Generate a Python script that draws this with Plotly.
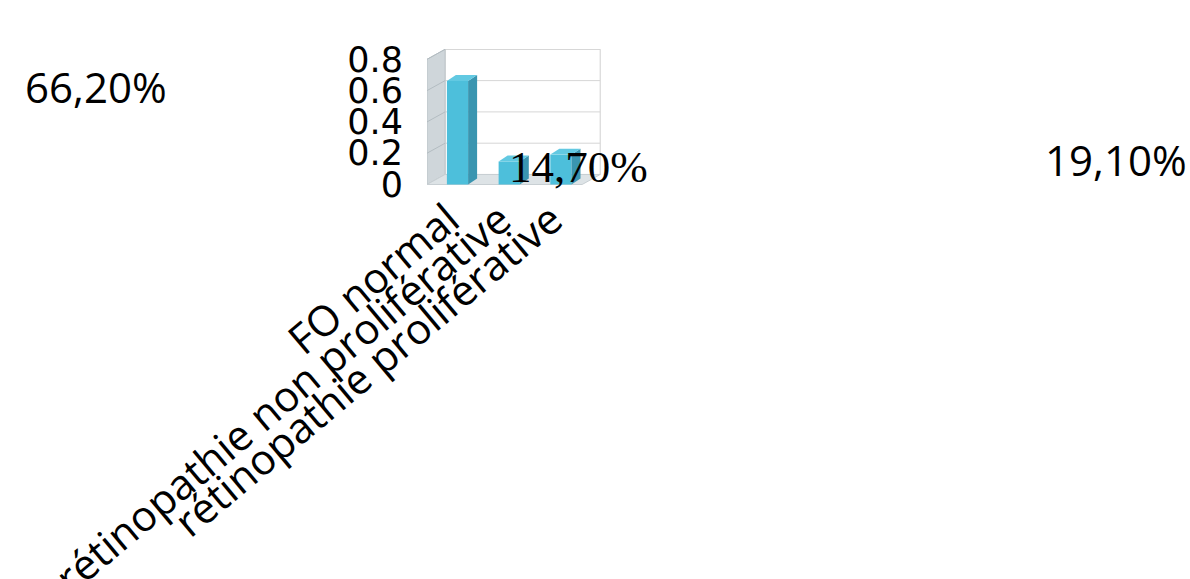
import plotly.graph_objects as go

# ---------------- data ----------------
categories = ["FO normal", "rétinopathie non proliférative", "rétinopathie proliférative"]
values = [0.662, 0.147, 0.191]
y_ticks = [0, 0.2, 0.4, 0.6, 0.8]
y_tick_text = ["0", "0.2", "0.4", "0.6", "0.8"]

# ---------------- geometry / style ----------------
W, H = 1190, 579
OFF = 0.09                     # bars sit mid-depth, so the front frame is shifted left
X_RANGE = [-0.5 - OFF, 2.814]
Y_RANGE = [-0.0096, 0.866]
DX, DY = 0.35, 0.064           # depth of the 3D box (data units)
BW = 0.41                      # bar width
BDX, BDY = 0.174, 0.038        # bar depth
FRONT, SIDE, TOP = "#4dbfdb", "#3a95b0", "#62c9e2"
WALL, FLOOR, GRID = "#cfd6da", "#dde3e6", "#d6d6d6"

x_pos = list(range(len(categories)))

fig = go.Figure()
fig.add_trace(go.Bar(x=x_pos, y=values, width=BW, marker=dict(color=FRONT, line=dict(width=0)),
                     hoverinfo="skip", showlegend=False))
for i, v in zip(x_pos, values):
    r = i + BW / 2
    l = i - BW / 2
    fig.add_trace(go.Scatter(x=[r, r + BDX, r + BDX, r, r], y=[0, BDY, v + BDY, v, 0],
                             mode="lines", fill="toself", fillcolor=SIDE, line=dict(width=0),
                             hoverinfo="skip", showlegend=False))
    fig.add_trace(go.Scatter(x=[l, r, r + BDX, l + BDX, l], y=[v, v, v + BDY, v + BDY, v],
                             mode="lines", fill="toself", fillcolor=TOP, line=dict(width=0),
                             hoverinfo="skip", showlegend=False))

xl, xr = X_RANGE[0], len(categories) - 0.5 - OFF
ytop = y_ticks[-1]
shapes = []
# back wall
shapes.append(dict(type="rect", xref="x", yref="y", x0=xl + DX, x1=xr + DX, y0=DY, y1=ytop + DY,
                   fillcolor="white", line=dict(color="#d0d0d0", width=1), layer="below"))
for t in y_ticks:
    shapes.append(dict(type="line", xref="x", yref="y", x0=xl + DX, x1=xr + DX, y0=t + DY, y1=t + DY,
                       line=dict(color=GRID, width=1), layer="below"))
# left wall
shapes.append(dict(type="path", xref="x", yref="y",
                   path=f"M {xl},0 L {xl},{ytop} L {xl + DX},{ytop + DY} L {xl + DX},{DY} Z",
                   fillcolor=WALL, line=dict(color="#bcc4c8", width=1), layer="below"))
for t in y_ticks[1:]:
    shapes.append(dict(type="line", xref="x", yref="y", x0=xl, x1=xl + DX, y0=t, y1=t + DY,
                       line=dict(color="#b3bcc1", width=1), layer="below"))
# floor
shapes.append(dict(type="path", xref="x", yref="y",
                   path=f"M {xl},0 L {xr},0 L {xr + DX},{DY} L {xl + DX},{DY} Z",
                   fillcolor=FLOOR, line=dict(color="#c8cfd3", width=1), layer="below"))

def pct(v):
    return f"{v * 100:.2f}%".replace(".", ",")

annotations = [
    dict(text=pct(values[0]), xref="paper", yref="paper", x=96 / W, y=1 - 87 / H,
         xanchor="center", yanchor="middle",
         showarrow=False, font=dict(family="Open Sans", size=42, color="black")),
    dict(text=pct(values[1]), xref="paper", yref="paper", x=578 / W, y=1 - 167 / H,
         xanchor="center", yanchor="middle",
         showarrow=False, font=dict(family="Liberation Serif", size=45, color="black")),
    dict(text=pct(values[2]), xref="paper", yref="paper", x=1116 / W, y=1 - 159 / H,
         xanchor="center", yanchor="middle",
         showarrow=False, font=dict(family="Open Sans", size=42, color="black")),
]

fig.update_layout(
    width=W, height=H, margin=dict(l=0, r=0, t=0, b=0),
    paper_bgcolor="white", plot_bgcolor="rgba(0,0,0,0)",
    showlegend=False, shapes=shapes, annotations=annotations,
    xaxis=dict(domain=[427 / W, 603 / W], range=X_RANGE, tickvals=x_pos, ticktext=categories,
               tickangle=-40, tickfont=dict(family="Open Sans", size=42, color="black"),
               ticklabelshift=-9,
               showgrid=False, zeroline=False, showline=False, ticks="", automargin=False,
               fixedrange=True),
    yaxis=dict(domain=[1 - 186 / H, 1 - 49 / H], range=Y_RANGE, tickvals=y_ticks, ticktext=y_tick_text,
               tickfont=dict(family="DejaVu Sans", size=35, color="black"),
               ticks="outside", ticklen=16, tickcolor="rgba(0,0,0,0)",
               showgrid=False, zeroline=False, showline=False, automargin=False, fixedrange=True),
)

fig.write_html("out.html")
